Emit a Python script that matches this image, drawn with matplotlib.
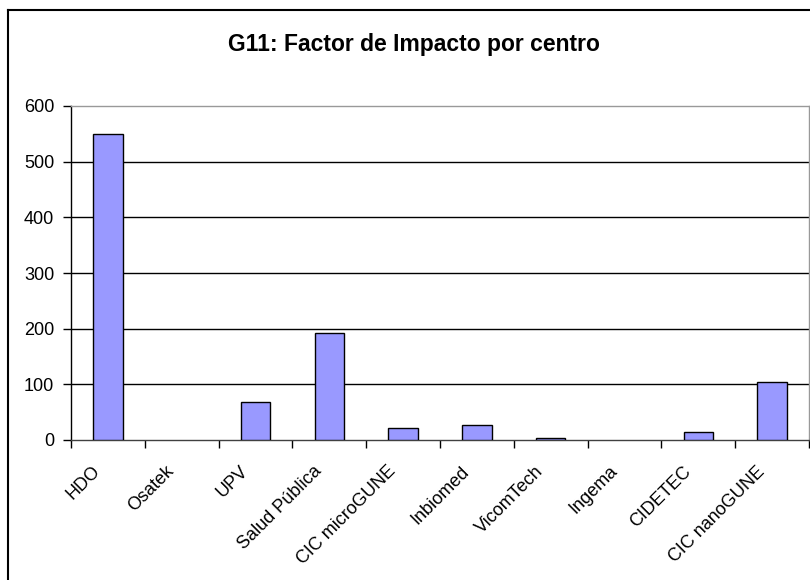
import numpy as np
import matplotlib.pyplot as plt
import matplotlib.transforms as mtransforms
from matplotlib.lines import Line2D

plt.rcParams['font.family'] = ['Liberation Sans', 'DejaVu Sans']

# datos
centros = ['HDO', 'Osatek', 'UPV', 'Salud Pública', 'CIC microGUNE',
           'Inbiomed', 'VicomTech', 'Ingema', 'CIDETEC', 'CIC nanoGUNE']
factor_impacto = [549, 0, 69, 192, 21, 27, 3, 0, 14, 105]
yticks = [0, 100, 200, 300, 400, 500, 600]

fig = plt.figure(figsize=(8.1, 5.8), dpi=100)
ax = fig.add_axes([71 / 810, 140 / 580, 738 / 810, 334 / 580])

x = np.arange(len(centros))
# las barras con valor 0 no se ven en el original
lw = [1.0 if v > 0 else 0 for v in factor_impacto]
ax.bar(x, factor_impacto, width=0.4, color='#9999FF', edgecolor='black',
       linewidth=lw, zorder=3)

ax.set_xlim(-0.5, len(centros) - 0.5)
ax.set_ylim(0, 600)
ax.set_yticks(yticks)
ax.set_yticklabels([str(v) for v in yticks], fontsize=13)
for v in yticks[1:-1]:
    ax.axhline(v, color='black', linewidth=1.0, zorder=1)

# ticks entre categorias, etiquetas en el centro
ax.set_xticks(np.arange(len(centros) + 1) - 0.5)
ax.set_xticklabels([])
ax.set_xticks(x, minor=True)
ax.set_xticklabels(centros, minor=True, rotation=45, ha='right',
                   rotation_mode='anchor', fontsize=13)
ax.tick_params(axis='x', which='minor', length=0, pad=10)
ax.tick_params(axis='x', which='major', length=6, direction='out', width=1)
ax.tick_params(axis='y', length=6, direction='out', width=1, pad=6)

# desplazar las etiquetas un poco a la izquierda, como en Excel
offset = mtransforms.ScaledTranslation(-16 / 100, -9 / 100, fig.dpi_scale_trans)
for lbl in ax.get_xticklabels(minor=True):
    lbl.set_transform(lbl.get_transform() + offset)

ax.spines['left'].set_color('black')
ax.spines['bottom'].set_color('#404040')
ax.spines['top'].set_color('#999999')
ax.spines['right'].set_color('#999999')
for s in ax.spines.values():
    s.set_linewidth(1.0)

fig.text(414 / 810, 1 - 45 / 580, 'G11: Factor de Impacto por centro',
         ha='center', va='center', fontsize=16.5, fontweight='bold')

# borde del area del grafico
fig.add_artist(Line2D([8 / 810, 1.0], [1 - 10 / 580, 1 - 10 / 580],
                      transform=fig.transFigure, color='black', linewidth=1.5))
fig.add_artist(Line2D([8 / 810, 8 / 810], [0.0, 1 - 10 / 580],
                      transform=fig.transFigure, color='black', linewidth=1.5))

fig.savefig('out.png', dpi=100)
